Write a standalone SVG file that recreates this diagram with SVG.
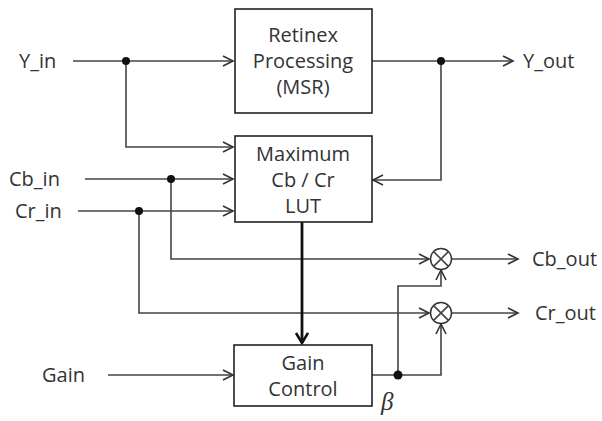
<svg xmlns="http://www.w3.org/2000/svg" width="602" height="421" viewBox="0 0 602 421">
<defs>
<marker id="arr" markerUnits="userSpaceOnUse" markerWidth="14" markerHeight="14" refX="11" refY="6" orient="auto">
<path d="M1,1 L11,6 L1,11" fill="none" stroke="#333" stroke-width="1.6"/>
</marker>
<marker id="arrB" markerUnits="userSpaceOnUse" markerWidth="16" markerHeight="16" refX="12" refY="7" orient="auto">
<path d="M2,1 L12,7 L2,13" fill="none" stroke="#111" stroke-width="2.6"/>
</marker>
</defs>
<style>
.box{fill:#fff;stroke:#222;stroke-width:1.6}
.t{font-family:"Open Sans","Noto Sans",sans-serif;font-size:20px;fill:#333}
.c{text-anchor:middle}
.w{fill:none;stroke:#444;stroke-width:1.6}
.dot{fill:#111}
.mul{fill:#fff;stroke:#333;stroke-width:1.5}
</style>
<rect width="602" height="421" fill="#fff"/>
<g id="connectors">
<path class="w" d="M73,61 H233" marker-end="url(#arr)"/>
<path class="w" d="M126,61 V147 H233" marker-end="url(#arr)"/>
<path class="w" d="M85,179 H233" marker-end="url(#arr)"/>
<path class="w" d="M78,211 H233" marker-end="url(#arr)"/>
<path class="w" d="M171,179 V259 H429" marker-end="url(#arr)"/>
<path class="w" d="M139,211 V313 H429" marker-end="url(#arr)"/>
<path class="w" d="M372,61 H513" marker-end="url(#arr)"/>
<path class="w" d="M441,61 V180 H373" marker-end="url(#arr)"/>
<path d="M302,222 V343" fill="none" stroke="#111" stroke-width="2.8" marker-end="url(#arrB)"/>
<path class="w" d="M108,375 H233" marker-end="url(#arr)"/>
<path class="w" d="M372,375 H441 V324" marker-end="url(#arr)"/>
<path class="w" d="M398,375 V286 H441 V270" marker-end="url(#arr)"/>
<path class="w" d="M452,259 H518" marker-end="url(#arr)"/>
<path class="w" d="M452,313 H518" marker-end="url(#arr)"/>
<circle class="dot" cx="126" cy="61" r="4"/>
<circle class="dot" cx="441" cy="61" r="4"/>
<circle class="dot" cx="171" cy="179" r="4"/>
<circle class="dot" cx="139" cy="211" r="4"/>
<circle class="dot" cx="398" cy="375" r="4.5"/>
</g>
<g id="retinex">
<rect class="box" x="235" y="9" width="137" height="104"/>
<text class="t c" x="303" y="42">Retinex</text>
<text class="t c" x="303" y="68">Processing</text>
<text class="t c" x="303" y="94">(MSR)</text>
</g>
<g id="lut">
<rect class="box" x="235" y="136" width="137" height="86"/>
<text class="t c" x="303" y="161">Maximum</text>
<text class="t c" x="303" y="187">Cb / Cr</text>
<text class="t c" x="303" y="213">LUT</text>
</g>
<g id="gain">
<rect class="box" x="234" y="345" width="138" height="61"/>
<text class="t c" x="303" y="370">Gain</text>
<text class="t c" x="303" y="396">Control</text>
</g>
<g id="mulCb">
<circle class="mul" cx="441" cy="259" r="10.5"/>
<path class="w" d="M433.6,251.6 L448.4,266.4 M448.4,251.6 L433.6,266.4" stroke-width="1.3"/>
</g>
<g id="mulCr">
<circle class="mul" cx="441" cy="313" r="10.5"/>
<path class="w" d="M433.6,305.6 L448.4,320.4 M448.4,305.6 L433.6,320.4" stroke-width="1.3"/>
</g>
<g id="labels">
<text class="t" x="19" y="68">Y_in</text>
<text class="t" x="9" y="186">Cb_in</text>
<text class="t" x="15" y="218">Cr_in</text>
<text class="t" x="42" y="382">Gain</text>
<text class="t" x="523" y="68">Y_out</text>
<text class="t" x="532" y="266">Cb_out</text>
<text class="t" x="535" y="320">Cr_out</text>
<text x="381" y="410" font-family="'Liberation Serif',serif" font-style="italic" font-size="25" fill="#333">β</text>
</g>
</svg>
